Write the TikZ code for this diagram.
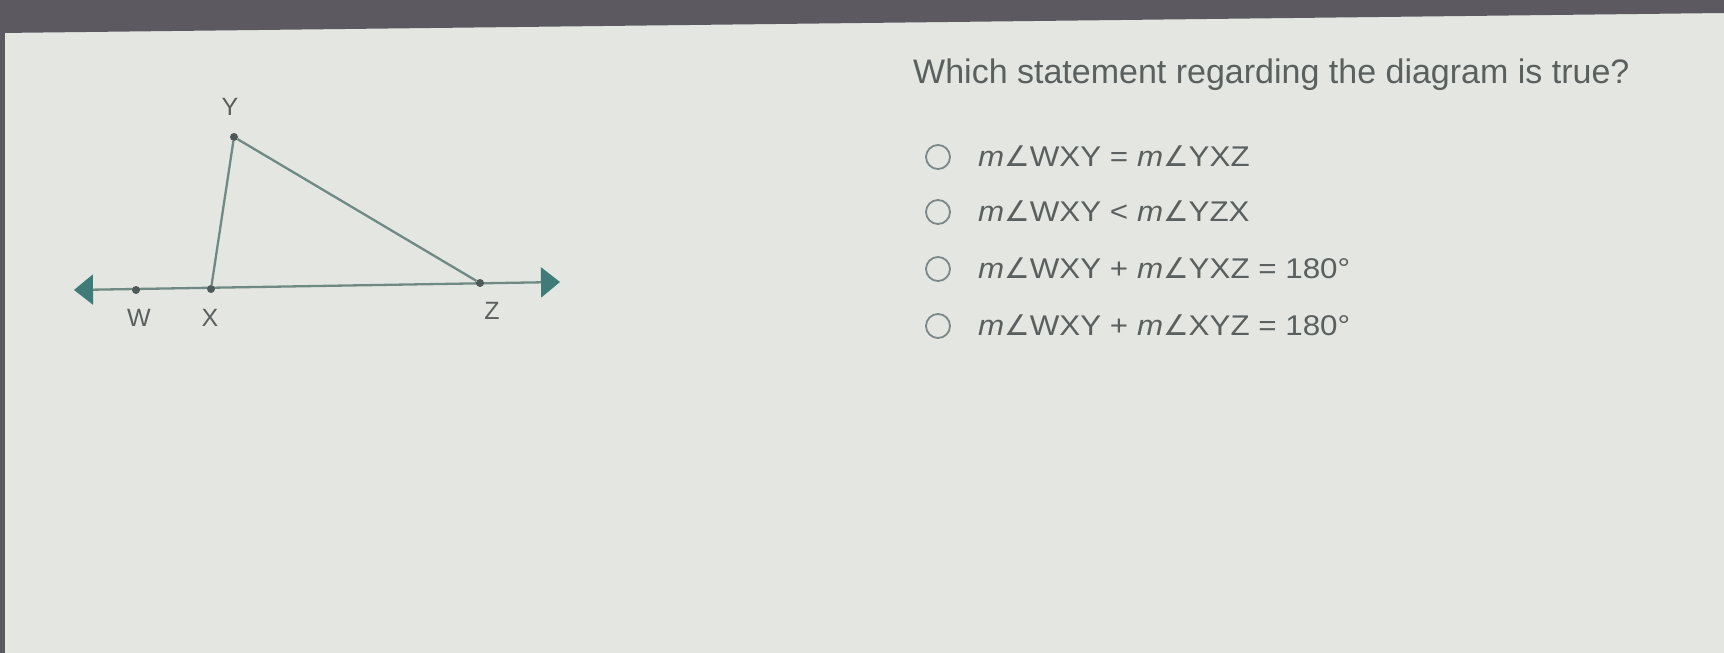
\documentclass[tikz,border=0pt]{standalone}
\usepackage{fontspec}
\setmainfont{Liberation Sans}
\newfontfamily\optfont[FakeStretch=1.1]{Liberation Sans}
\newfontfamily\angfont{DejaVu Sans}
\usetikzlibrary{arrows.meta}

\definecolor{paper}{HTML}{E3E6E1}
\definecolor{bezel}{HTML}{5C5A60}
\definecolor{segcol}{HTML}{6F8A83}
\definecolor{dotcol}{HTML}{4F5A58}
\definecolor{arrowcol}{HTML}{3F7B78}
\definecolor{txtcol}{HTML}{5A605E}
\definecolor{radiocol}{HTML}{7C8887}

\newcommand{\mang}[1]{\textit{m}{\angfont ∠}#1}

\begin{document}
\begin{tikzpicture}[x=1pt, y=-1pt, inner sep=0pt]
    \tikzset{seg/.style={draw=segcol, line width=2.3pt},
             dot/.style={circle, fill=dotcol, minimum size=8pt},
             lbl/.style={text=txtcol, font=\fontsize{25}{30}\selectfont},
             stmt/.style={text=txtcol, font=\optfont\fontsize{28.5}{34}\selectfont, anchor=base west},
             radio/.style={circle, draw=radiocol, line width=1.8pt, minimum size=24pt}}

    % screen and bezel
    \fill[paper] (0,0) rectangle (1724,653);
    \fill[bezel] (0,0) -- (1724,0) -- (1724,13) -- (0,33) -- cycle;
    \fill[bezel] (0,33) rectangle (5,653);

    % line WZ with arrows
    \coordinate (L) at (74,290);
    \coordinate (R) at (560,282);
    \draw[seg, {Triangle[length=19pt,width=30pt,color=arrowcol]}-{Triangle[length=19pt,width=30pt,color=arrowcol]}] (L) -- (R);

    \node[dot] (W) at (136,290) {};
    \node[dot] (X) at (211,289) {};
    \node[dot] (Y) at (234,137) {};
    \node[dot] (Z) at (480,283) {};
    \draw[seg] (X) -- (Y) -- (Z);

    \node[lbl] (labY) at (230,107) {Y};
    \node[lbl] (labW) at (139,318) {W};
    \node[lbl] (labX) at (210,318) {X};
    \node[lbl] (labZ) at (492,311) {Z};

    % question
    \node[anchor=base west, text=txtcol, font=\fontsize{34}{40}\selectfont] (title) at (913,83) {Which statement regarding the diagram is true?};

    \foreach \yb/\txt in {166/{\mang{WXY} = \mang{YXZ}},
                          221/{\mang{WXY} < \mang{YZX}},
                          278/{\mang{WXY} + \mang{YXZ} = 180°},
                          335/{\mang{WXY} + \mang{XYZ} = 180°}} {
        \node[radio] (opt\yb) at (938,{\yb-9}) {};
        \node[stmt] (stmt\yb) at (978,\yb) {\txt};
    }
\end{tikzpicture}
\end{document}
